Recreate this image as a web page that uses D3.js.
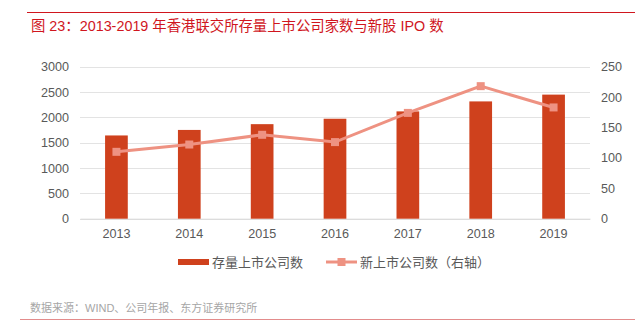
<!DOCTYPE html>
<html>
<head>
<meta charset="utf-8">
<script src="https://cdn.jsdelivr.net/npm/d3@7"></script>
<style>
  html, body { margin: 0; padding: 0; background: #fff; }
  svg { display: block; }
  text { font-family: "Liberation Sans", Arial, "Noto Sans CJK SC", sans-serif; }
</style>
</head>
<body>
<svg id="chart" width="635" height="333"></svg>
<script>
// HKEX: listed companies (left axis) and new IPOs (right axis)
const years = ["2013", "2014", "2015", "2016", "2017", "2018", "2019"];
const listedCompanies = [1643, 1752, 1866, 1973, 2118, 2315, 2449];
const newListings = [110, 122, 138, 126, 174, 218, 183];
const leftTicks = [0, 500, 1000, 1500, 2000, 2500, 3000];
const rightTicks = [0, 50, 100, 150, 200, 250];

const titleText = "图 23：2013-2019 年香港联交所存量上市公司家数与新股 IPO 数";
const barLabel = "存量上市公司数";
const lineLabel = "新上市公司数（右轴）";
const sourceText = "数据来源：WIND、公司年报、东方证券研究所";

const cjk = "'Liberation Sans', Arial, 'Noto Sans CJK SC', sans-serif";
const latin = "'Liberation Sans', Arial, sans-serif";
const svg = d3.select("#chart");

const plot = { left: 80, right: 590, top: 66.7, bottom: 218.7 };
const barColor = "#cf411d";
const lineColor = "#ee9282";
const axisText = "#595959";

// header rule and title
svg.append("line").attr("x1", 27).attr("x2", 635).attr("y1", 12.5).attr("y2", 12.5)
  .attr("stroke", "#d0161e").attr("stroke-width", 1.2);
const title = svg.append("text").attr("x", 31).attr("y", 31).text(titleText)
  .attr("fill", "#d0161e").attr("font-size", 14)
  .style("font-family", cjk);
// keep the title spanning its intended width
const tw = title.node().getComputedTextLength();
if (tw > 0) title.attr("font-size", 14 * 413 / tw);

const x = d3.scaleBand().domain(years).range([plot.left, plot.right]).paddingInner(0).paddingOuter(0);
const yL = d3.scaleLinear().domain([0, 3000]).range([plot.bottom, plot.top]);
const yR = d3.scaleLinear().domain([0, 250]).range([plot.bottom, plot.top]);

// gridlines
svg.append("g").selectAll("line").data(leftTicks).join("line")
  .attr("x1", plot.left).attr("x2", plot.right)
  .attr("y1", d => Math.round(yL(d)) + 0.5).attr("y2", d => Math.round(yL(d)) + 0.5)
  .attr("stroke", "#e3e3e3").attr("stroke-width", 1);

// left axis
const axL = svg.append("g").attr("transform", `translate(${plot.left},0)`)
  .call(d3.axisLeft(yL).tickValues(leftTicks).tickFormat(d3.format("d")).tickSize(0).tickPadding(11));
axL.select(".domain").remove();
axL.selectAll("text").attr("fill", axisText).attr("font-size", 12.6).style("font-family", latin);

// right axis
const axR = svg.append("g").attr("transform", `translate(${plot.right},0)`)
  .call(d3.axisRight(yR).tickValues(rightTicks).tickFormat(d3.format("d")).tickSize(0).tickPadding(11));
axR.select(".domain").remove();
axR.selectAll("text").attr("fill", axisText).attr("font-size", 12.6).style("font-family", latin);

// bottom axis
const axB = svg.append("g").attr("transform", `translate(0,${plot.bottom})`)
  .call(d3.axisBottom(x).tickSize(0).tickPadding(10));
axB.select(".domain").attr("stroke", "#d9d9d9");
axB.selectAll("text").attr("fill", axisText).attr("font-size", 12.6).style("font-family", latin);

// bars
const barW = 22.7;
svg.append("g").selectAll("rect").data(years).join("rect")
  .attr("x", d => x(d) + x.bandwidth() / 2 - barW / 2)
  .attr("width", barW)
  .attr("y", (d, i) => yL(listedCompanies[i]))
  .attr("height", (d, i) => plot.bottom - yL(listedCompanies[i]))
  .attr("fill", barColor);

// line with square markers
const pts = years.map((d, i) => [x(d) + x.bandwidth() / 2, yR(newListings[i])]);
svg.append("path").attr("d", d3.line()(pts))
  .attr("fill", "none").attr("stroke", lineColor).attr("stroke-width", 3);
const ms = 8;
svg.append("g").selectAll("rect").data(pts).join("rect")
  .attr("x", d => d[0] - ms / 2).attr("y", d => d[1] - ms / 2)
  .attr("width", ms).attr("height", ms).attr("fill", lineColor);

// legend
const lg = svg.append("g");
lg.append("rect").attr("x", 178).attr("y", 259).attr("width", 31).attr("height", 6).attr("fill", barColor);
lg.append("text").attr("x", 212).attr("y", 267).text(barLabel)
  .attr("fill", axisText).attr("font-size", 13).style("font-family", cjk);
lg.append("line").attr("x1", 326).attr("x2", 357).attr("y1", 262).attr("y2", 262)
  .attr("stroke", lineColor).attr("stroke-width", 3);
lg.append("rect").attr("x", 337.5).attr("y", 258).attr("width", 8).attr("height", 8).attr("fill", lineColor);
lg.append("text").attr("x", 360).attr("y", 267).text(lineLabel)
  .attr("fill", axisText).attr("font-size", 13).style("font-family", cjk);

// source note and footer rule
svg.append("text").attr("x", 30).attr("y", 312).text(sourceText)
  .attr("fill", "#a6a6a6").attr("font-size", 11).style("font-family", cjk);
svg.append("line").attr("x1", 20).attr("x2", 635).attr("y1", 319.5).attr("y2", 319.5)
  .attr("stroke", "#e38c8c").attr("stroke-width", 1.2);
</script>
</body>
</html>
